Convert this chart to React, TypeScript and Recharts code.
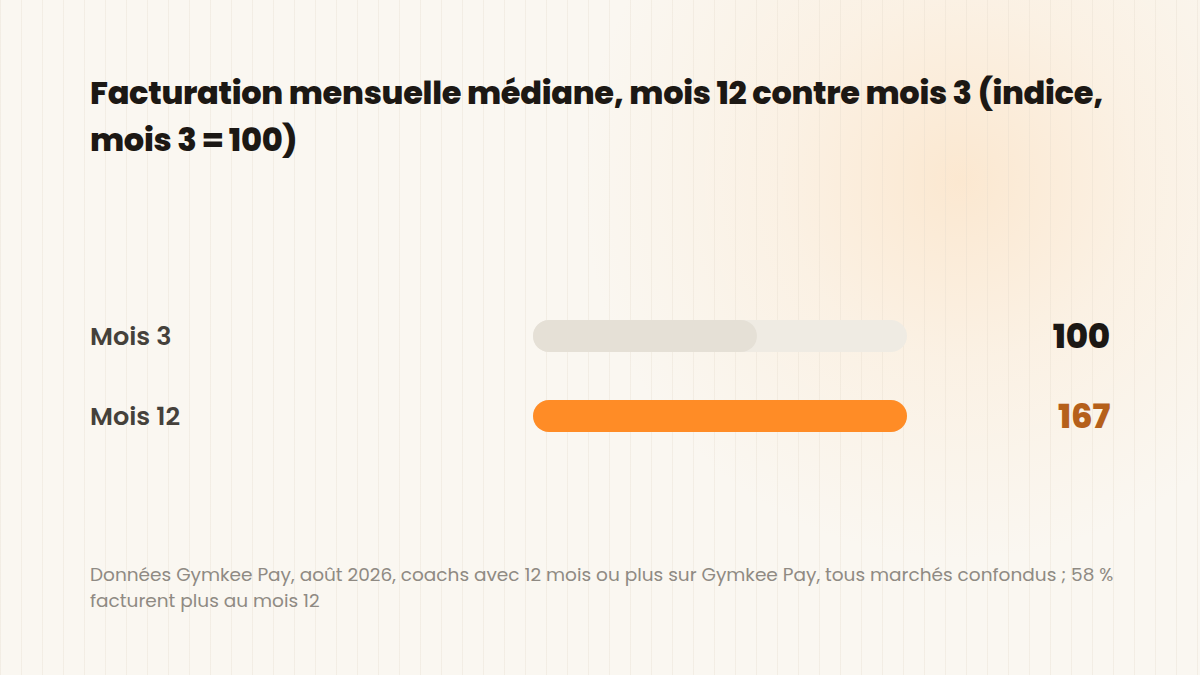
import React from "react";
import { BarChart, Bar, XAxis, YAxis, Cell, LabelList } from "recharts";

const categories = ["Mois 3", "Mois 12"];
const values = [100, 167];
const valueColors = ["#1c1814", "#b5601b"];
const barColors = ["#e5e0d6", "#ff8c26"];
const titleLines = [
  "Facturation mensuelle médiane, mois 12 contre mois 3 (indice,",
  "mois 3 = 100)",
];
const footnoteLines = [
  "Données Gymkee Pay, août 2026, coachs avec 12 mois ou plus sur Gymkee Pay, tous marchés confondus ; 58 %",
  "facturent plus au mois 12",
];

const data = categories.map((c, i) => ({ name: c, value: values[i] }));

const FONT = "Poppins, Inter, 'Open Sans', sans-serif";

const CategoryTick = (props: any) => {
  const { y, payload } = props;
  return (
    <text
      x={90}
      y={y}
      dy={9}
      textAnchor="start"
      fontFamily={FONT}
      fontSize={25.5}
      fontWeight={600}
      fill="#45413b"
    >
      {payload.value}
    </text>
  );
};

const ValueLabel = (props: any) => {
  const { y, height, index, value } = props;
  return (
    <text
      x={1110}
      y={y + height / 2}
      dy={12}
      textAnchor="end"
      fontFamily={FONT}
      fontSize={34}
      fontWeight={800}
      fill={valueColors[index]}
      letterSpacing={-0.2}
    >
      {value}
    </text>
  );
};

export default function App() {
  return (
    <div
      style={{
        position: "absolute",
        left: 0,
        top: 0,
        width: 1200,
        height: 675,
        overflow: "hidden",
        background: "#faf7f1",
        fontFamily: FONT,
      }}
    >
      <div
        style={{
          position: "absolute",
          inset: 0,
          background:
            "radial-gradient(circle at 960px 180px, rgba(255,200,140,0.32) 0px, rgba(255,210,160,0.16) 180px, rgba(250,247,241,0) 380px)",
        }}
      />
      <div
        style={{
          position: "absolute",
          inset: 0,
          background:
            "repeating-linear-gradient(90deg, rgba(225,215,200,0.3) 0px, rgba(225,215,200,0.3) 1px, rgba(0,0,0,0) 1px, rgba(0,0,0,0) 21px)",
        }}
      />
      <div
        style={{
          position: "absolute",
          left: 90,
          top: 69,
          fontSize: 32,
          fontWeight: 800,
          color: "#1c1814",
          lineHeight: "47px",
          letterSpacing: -0.3,
          whiteSpace: "nowrap",
        }}
      >
        {titleLines.map((l, i) => (
          <div key={i}>{l}</div>
        ))}
      </div>
      <div style={{ position: "absolute", left: 0, top: 0 }}>
        <BarChart
          width={1200}
          height={675}
          data={data}
          layout="vertical"
          margin={{ top: 296, bottom: 219, left: 0, right: 293 }}
          barSize={32}
        >
          <XAxis type="number" domain={[0, 167]} hide />
          <YAxis
            type="category"
            dataKey="name"
            width={533}
            axisLine={false}
            tickLine={false}
            tick={<CategoryTick />}
          />
          <Bar
            dataKey="value"
            isAnimationActive={false}
            radius={16}
            background={{ fill: "#efebe3", radius: 16 } as any}
          >
            {data.map((d, i) => (
              <Cell key={d.name} fill={barColors[i]} />
            ))}
            <LabelList dataKey="value" content={<ValueLabel />} />
          </Bar>
        </BarChart>
      </div>
      <div
        style={{
          position: "absolute",
          left: 90,
          top: 562,
          fontSize: 18.5,
          fontWeight: 400,
          color: "#8f8a83",
          lineHeight: "26px",
          whiteSpace: "nowrap",
        }}
      >
        {footnoteLines.map((l, i) => (
          <div key={i}>{l}</div>
        ))}
      </div>
    </div>
  );
}
